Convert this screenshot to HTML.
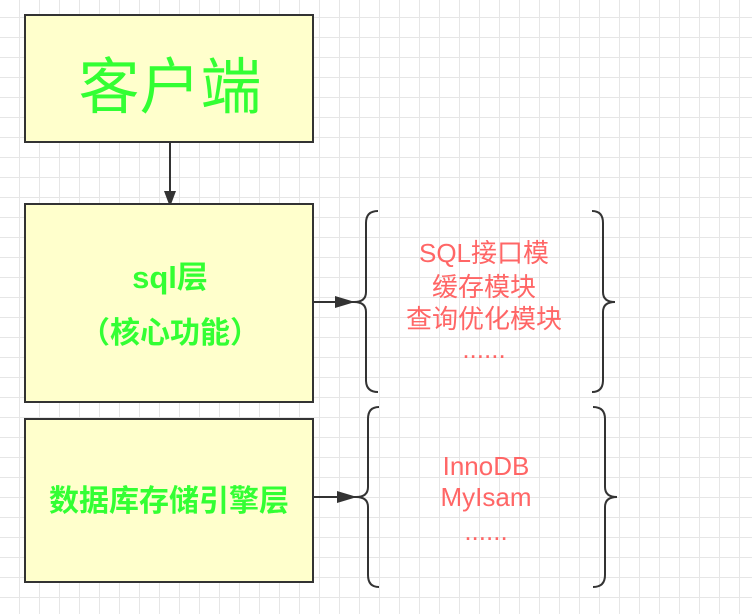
<!DOCTYPE html>
<html><head><meta charset="utf-8"><style>
body{margin:0;width:752px;height:614px;overflow:hidden;background:#fff;
background-image:linear-gradient(#e6e6e6 1px,transparent 1px),linear-gradient(90deg,#e6e6e6 1px,transparent 1px);
background-size:20px 20px;background-position:19px 17px;font-family:"Liberation Sans","Noto Sans CJK SC",sans-serif;}
</style></head><body>
<svg width="752" height="614" style="position:absolute;left:0;top:0" font-family="Liberation Sans, Noto Sans CJK SC, sans-serif">
<defs><marker id="a" markerWidth="12" markerHeight="16" refX="11" refY="6" orient="auto" markerUnits="userSpaceOnUse"><path d="M0,0 L16,6 L0,12z" fill="#333"/></marker>
<marker id="b" markerWidth="20" markerHeight="12" refX="19" refY="6" orient="auto" markerUnits="userSpaceOnUse"><path d="M0,0 L20,6 L0,12z" fill="#333"/></marker></defs>
<g fill="#ffffcc" stroke="#333" stroke-width="2">
<rect x="25" y="15" width="288" height="127"/>
<rect x="25" y="204" width="288" height="198"/>
<rect x="25" y="419" width="288" height="163"/>
</g>
<g stroke="#333" stroke-width="2" fill="none">
<line x1="170" y1="143" x2="170" y2="202" marker-end="url(#a)"/>
<line x1="314" y1="302" x2="354" y2="302" marker-end="url(#b)"/>
<line x1="314" y1="497" x2="356" y2="497" marker-end="url(#b)"/>
<path d="M378,211 Q366,211 366,223 L366,292 Q366,302 354,302 Q366,302 366,312 L366,380 Q366,392 378,392"/>
<path d="M592,211 Q603,211 603,223 L603,292 Q603,302 615,302 Q603,302 603,312 L603,380 Q603,392 592,392"/>
<path d="M379,407 Q368,407 368,419 L368,487 Q368,497 356,497 Q368,497 368,507 L368,575 Q368,587 379,587"/>
<path d="M593,407 Q605,407 605,419 L605,487 Q605,497 617,497 Q605,497 605,507 L605,575 Q605,587 593,587"/>
</g>
<g fill="#33ff33" text-anchor="middle">
<text x="170" y="108" font-size="61">客户端</text>
<text x="170" y="288" font-size="31" font-weight="bold">sql层</text>
<text x="170" y="343" font-size="30" font-weight="bold">（核心功能）</text>
<text x="169" y="511" font-size="30" font-weight="bold">数据库存储引擎层</text>
</g>
<g fill="#ff6666" text-anchor="middle" font-size="26">
<text x="484" y="262">SQL接口模</text>
<text x="484" y="296">缓存模块</text>
<text x="484" y="328">查询优化模块</text>
<text x="484" y="358">......</text>
<text x="486" y="475">InnoDB</text>
<text x="486" y="506">MyIsam</text>
<text x="486" y="540">......</text>
</g>
</svg>
</body></html>
